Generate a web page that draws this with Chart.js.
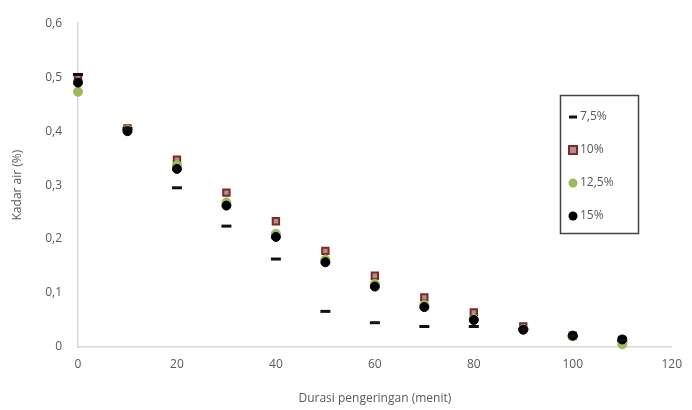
<!DOCTYPE html>
<html>
<head>
<meta charset="utf-8">
<script src="https://cdn.jsdelivr.net/npm/chart.js@4"></script>
<style>
  body { margin: 0; background: #fff; }
  #wrap { position: relative; width: 692px; height: 410px; }
</style>
</head>
<body>
<div id="wrap"><canvas id="canv" width="692" height="410"></canvas></div>
<script>
var durasi = [0, 10, 20, 30, 40, 50, 60, 70, 80, 90, 100, 110];
var kadar75 = [0.505, 0.405, 0.295, 0.224, 0.163, 0.066, 0.045, 0.038, 0.038, 0.033, 0.02, 0.012];
var kadar10 = [0.500, 0.405, 0.347, 0.286, 0.233, 0.178, 0.132, 0.092, 0.064, 0.038, 0.021, 0.013];
var kadar125 = [0.473, 0.402, 0.337, 0.268, 0.210, 0.162, 0.117, 0.078, 0.052, 0.033, 0.020, 0.005];
var kadar15 = [0.490, 0.400, 0.330, 0.262, 0.204, 0.157, 0.112, 0.074, 0.050, 0.032, 0.021, 0.014];
var labelSeri = ['7,5%', '10%', '12,5%', '15%'];
var yTicks = [0, 0.1, 0.2, 0.3, 0.4, 0.5, 0.6];

function toPoints(arr){
  return arr.map(function(v, i){ return {x: durasi[i], y: v}; });
}

var gaya = [
  {pointStyle: 'line', radius: 5, bg: '#111', border: '#111', bw: 3, order: 0},
  {pointStyle: 'rect', radius: 4.5, bg: '#b58a88', border: '#7a2b28', bw: 2, order: 3},
  {pointStyle: 'circle', radius: 4.5, bg: '#9bbb59', border: '#9bbb59', bw: 1, order: 2},
  {pointStyle: 'circle', radius: 4.5, bg: '#000', border: '#000', bw: 1, order: 1}
];
var semua = [kadar75, kadar10, kadar125, kadar15];

var datasets = semua.map(function(arr, i){
  return {
    label: labelSeri[i],
    data: toPoints(arr),
    showLine: false,
    clip: false,
    pointStyle: gaya[i].pointStyle,
    pointRadius: gaya[i].radius,
    pointBackgroundColor: gaya[i].bg,
    pointBorderColor: gaya[i].border,
    pointBorderWidth: gaya[i].bw,
    order: gaya[i].order
  };
});

// legenda kotak di dalam area plot
var legendaPlugin = {
  id: 'legendaKotak',
  afterDraw: function(chart){
    var ctx = chart.ctx;
    ctx.save();
    ctx.strokeStyle = '#444';
    ctx.lineWidth = 1.5;
    ctx.strokeRect(560.5, 95.5, 78, 138);
    ctx.font = '12px "Open Sans", sans-serif';
    ctx.fillStyle = '#595959';
    ctx.textBaseline = 'middle';
    for (var i = 0; i < labelSeri.length; i++) {
      var y = 117 + i * 33;
      var g = gaya[i];
      ctx.beginPath();
      if (g.pointStyle === 'line') {
        ctx.strokeStyle = g.border; ctx.lineWidth = 3;
        ctx.moveTo(569, y); ctx.lineTo(577, y); ctx.stroke();
      } else if (g.pointStyle === 'rect') {
        ctx.fillStyle = g.bg; ctx.strokeStyle = g.border; ctx.lineWidth = 2;
        ctx.fillRect(569, y - 4, 8, 8); ctx.strokeRect(569, y - 4, 8, 8);
      } else {
        ctx.fillStyle = g.bg;
        ctx.arc(573, y, 4.5, 0, Math.PI * 2); ctx.fill();
      }
      ctx.fillStyle = '#595959';
      ctx.fillText(labelSeri[i], 580, y);
    }
    ctx.restore();
  }
};

var tickFont = {family: '"Open Sans", sans-serif', size: 12};

new Chart(document.getElementById('canv'), {
  type: 'scatter',
  data: {datasets: datasets},
  plugins: [legendaPlugin],
  options: {
    responsive: false,
    animation: false,
    layout: {padding: {top: 20, right: 17, left: 6, bottom: 0}},
    plugins: {legend: {display: false}, tooltip: {enabled: false}},
    scales: {
      x: {
        type: 'linear', min: 0, max: 120,
        grid: {display: false, drawTicks: false},
        border: {color: '#d9d9d9', width: 1.5},
        ticks: {stepSize: 20, color: '#595959', font: tickFont, padding: 10},
        title: {display: true, text: 'Durasi pengeringan (menit)', color: '#595959',
                font: tickFont, padding: {top: 8}},
        afterFit: function(s){ s.height = 63; }
      },
      y: {
        type: 'linear', min: 0, max: 0.6,
        grid: {display: false, drawTicks: false},
        border: {color: '#d9d9d9', width: 1.5},
        afterBuildTicks: function(s){ s.ticks = yTicks.map(function(v){ return {value: v}; }); },
        ticks: {color: '#595959', font: tickFont, padding: 16,
                callback: function(v){ return v === 0 ? '0' : v.toFixed(1).replace('.', ','); }},
        title: {display: true, text: 'Kadar air (%)', color: '#595959', font: tickFont, padding: {bottom: 0}},
        afterFit: function(s){ s.width = 72; }
      }
    }
  }
});
</script>
</body>
</html>
